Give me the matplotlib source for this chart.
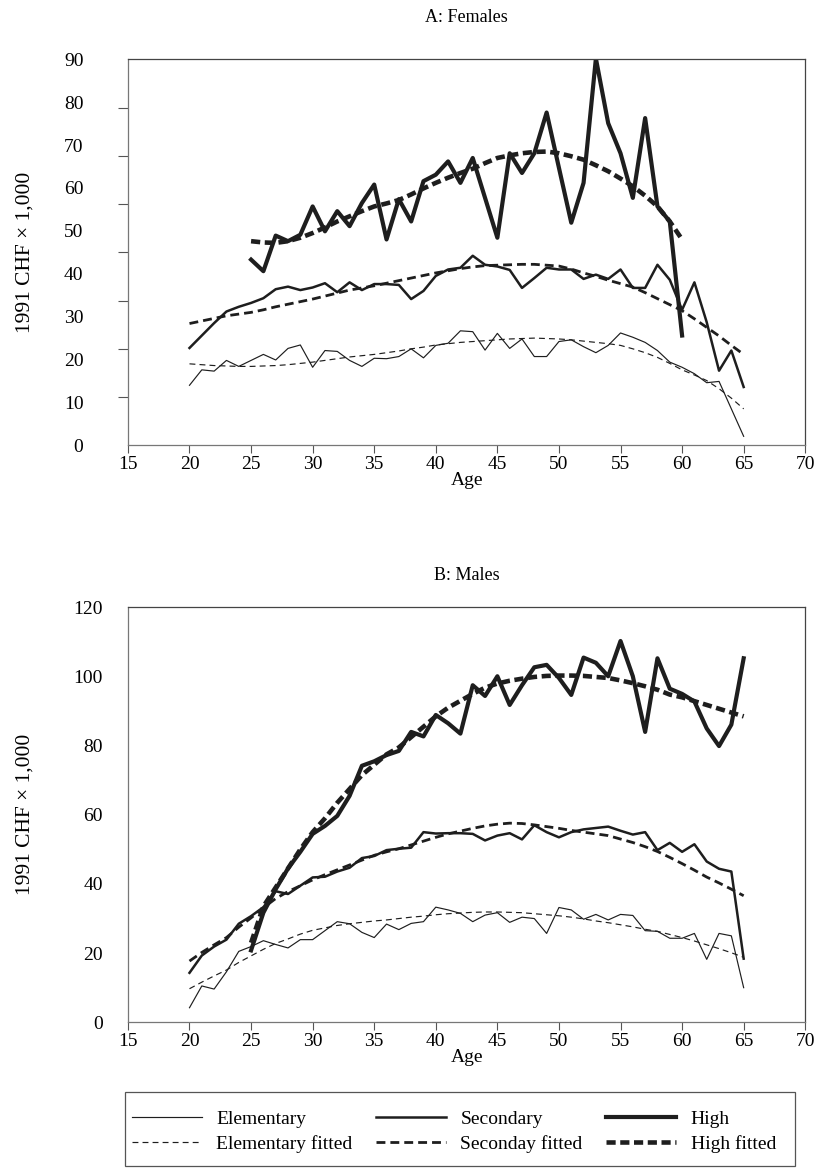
import matplotlib
matplotlib.use('Agg')
import matplotlib.pyplot as plt
import numpy as np
from matplotlib.patches import Rectangle

plt.rcParams['font.family'] = ['Liberation Serif', 'DejaVu Serif']

# ages
ages_all = list(range(20, 66))
ages_high_f = list(range(25, 61))
ages_high_m = list(range(25, 66))

# ---- A: Females ----
f_elem = [14.0, 17.6, 17.3, 19.8, 18.4, 19.8, 21.2, 19.9, 22.6, 23.4,
          18.2, 22.1, 21.9, 19.8, 18.4, 20.3, 20.2, 20.7, 22.5, 20.4,
          23.3, 23.8, 26.7, 26.5, 22.2, 26.1, 22.6, 24.8, 20.7, 20.7,
          24.2, 24.6, 23.0, 21.6, 23.3, 26.2, 25.2, 24.0, 22.1, 19.4,
          18.2, 16.7, 14.6, 14.9, 8.5, 2.1]
f_elem_fit = [19.0, 18.8, 18.6, 18.5, 18.4, 18.4, 18.5, 18.6, 18.8, 19.1,
              19.4, 19.8, 20.2, 20.6, 20.9, 21.2, 21.6, 22.0, 22.5, 22.9,
              23.4, 23.7, 24.0, 24.2, 24.4, 24.6, 24.8, 24.9, 25.0, 24.9,
              24.8, 24.6, 24.3, 24.0, 23.7, 23.3, 22.5, 21.6, 20.5, 19.1,
              17.6, 16.4, 15.1, 13.2, 11.0, 8.5]
f_sec = [22.7, 25.6, 28.5, 31.2, 32.3, 33.2, 34.3, 36.4, 37.0, 36.2,
         36.8, 37.8, 35.7, 38.0, 36.2, 37.6, 37.6, 37.4, 34.1, 36.0,
         39.5, 41.0, 41.4, 44.2, 42.1, 41.7, 40.9, 36.7, 39.0, 41.4,
         41.0, 41.0, 38.8, 39.8, 38.8, 41.0, 36.7, 36.7, 42.1, 38.6,
         31.6, 38.0, 28.7, 17.4, 22.1, 13.6]
f_sec_fit = [28.4, 29.0, 29.6, 30.2, 30.6, 31.0, 31.6, 32.3, 32.9, 33.5,
             34.1, 34.8, 35.5, 36.2, 36.7, 37.2, 37.8, 38.4, 39.0, 39.6,
             40.2, 40.7, 41.2, 41.6, 41.9, 42.0, 42.1, 42.2, 42.2, 42.0,
             41.8, 41.1, 40.2, 39.4, 38.5, 37.7, 36.9, 35.6, 34.2, 32.8,
             31.4, 29.5, 27.5, 25.5, 23.3, 21.2]
f_high = [43.3, 40.6, 48.9, 47.6, 49.1, 55.7, 49.9, 54.6, 51.1, 56.5,
          60.8, 48.0, 57.4, 52.2, 61.6, 63.1, 66.2, 61.2, 67.0, 57.7,
          48.4, 68.1, 63.5, 68.1, 77.6, 64.7, 51.9, 61.2, 90.2, 75.1,
          68.1, 57.7, 76.3, 55.7, 52.2, 25.6]
f_high_fit = [47.6, 47.3, 47.2, 47.6, 48.4, 49.5, 50.8, 52.2, 53.4, 54.6,
              55.7, 56.4, 57.2, 58.5, 59.9, 61.2, 62.4, 63.5, 64.5, 65.8,
              67.0, 67.6, 68.1, 68.4, 68.5, 68.1, 67.4, 66.6, 65.3, 63.9,
              62.2, 60.4, 58.2, 55.7, 52.2, 48.0]

# ---- B: Males ----
m_elem = [4.2, 10.5, 9.6, 14.6, 20.5, 21.9, 23.6, 22.5, 21.5, 23.9,
          23.9, 26.5, 29.1, 28.5, 26.0, 24.5, 28.4, 26.8, 28.6, 29.1,
          33.3, 32.5, 31.5, 29.1, 31.0, 31.7, 28.9, 30.4, 30.0, 25.7,
          33.2, 32.5, 29.8, 31.2, 29.6, 31.2, 30.9, 26.5, 26.3, 24.3,
          24.3, 25.7, 18.2, 25.7, 25.0, 10.0]
m_elem_fit = [9.7, 11.6, 13.4, 15.1, 17.3, 19.2, 21.1, 22.8, 24.1, 25.5,
              26.6, 27.3, 28.0, 28.5, 28.9, 29.3, 29.6, 30.0, 30.4, 30.7,
              31.1, 31.4, 31.6, 31.8, 31.9, 31.9, 31.8, 31.7, 31.4, 31.1,
              30.8, 30.4, 29.9, 29.3, 28.8, 28.2, 27.6, 26.9, 26.3, 25.4,
              24.5, 23.5, 22.4, 21.3, 20.1, 18.8]
m_sec = [14.3, 19.3, 21.9, 23.9, 28.5, 30.7, 33.3, 37.9, 37.1, 39.5,
         41.9, 42.1, 43.6, 44.7, 47.5, 48.1, 49.8, 50.2, 50.5, 55.0,
         54.6, 54.7, 54.7, 54.5, 52.6, 54.0, 54.7, 52.9, 57.0, 55.0,
         53.5, 55.0, 55.8, 56.2, 56.6, 55.4, 54.3, 55.0, 49.8, 51.9,
         49.3, 51.5, 46.5, 44.4, 43.6, 18.4]
m_sec_fit = [17.7, 20.2, 22.4, 24.5, 27.5, 30.2, 33.1, 35.8, 37.8, 39.5,
             41.2, 42.7, 44.1, 45.5, 46.9, 48.3, 49.3, 50.2, 51.3, 52.4,
             53.5, 54.5, 55.3, 56.1, 56.8, 57.3, 57.6, 57.5, 57.1, 56.6,
             56.1, 55.5, 55.0, 54.5, 54.0, 53.0, 52.0, 50.8, 49.4, 47.7,
             45.9, 44.0, 42.0, 40.3, 38.5, 36.6]
m_high = [20.8, 31.7, 38.5, 44.5, 49.3, 54.5, 56.8, 59.7, 65.5, 74.2,
          75.5, 77.3, 78.5, 84.0, 82.7, 88.9, 86.5, 83.5, 97.5, 94.4,
          100.1, 91.8, 97.5, 102.7, 103.4, 99.6, 94.7, 105.5, 104.0, 100.1,
          110.3, 100.1, 84.0, 105.3, 96.5, 95.0, 92.8, 85.0, 79.9, 86.1,
          105.3]
m_high_fit = [23.0, 33.5, 39.0, 44.5, 50.0, 55.0, 59.0, 63.5, 67.5, 71.5,
              74.5, 77.5, 79.5, 82.5, 85.5, 88.5, 91.0, 93.0, 95.0, 96.8,
              98.0, 98.8, 99.4, 99.9, 100.2, 100.3, 100.3, 100.2, 99.9, 99.6,
              98.9, 98.1, 97.2, 96.2, 94.8, 94.0, 92.9, 91.8, 90.7, 89.6,
              88.5]

x_ticks = list(range(15, 71, 5))
ink = '#1e1e1e'

styles = {
    'elem': dict(color=ink, lw=0.85),
    'elem_fit': dict(color=ink, lw=0.85, ls=(0, (5, 3.5))),
    'sec': dict(color=ink, lw=1.8),
    'sec_fit': dict(color=ink, lw=2.0, ls=(0, (3.2, 1.8))),
    'high': dict(color=ink, lw=3.0),
    'high_fit': dict(color=ink, lw=3.3, ls=(0, (2.0, 1.0))),
}


def draw_panel(ax, title, series, ymax, ystep, n_marks, tpad):
    for key, xs, ys, lab in series:
        ax.plot(xs, ys, label=lab, **styles[key])
    ax.set_xlim(15, 70)
    ax.set_ylim(0, ymax)
    ax.set_xticks(x_ticks)
    # labels on the major ticks, the tick marks themselves drawn as minor ticks
    ax.set_yticks(np.arange(0, ymax + 1, ystep))
    ax.set_yticks(np.linspace(0, ymax, n_marks), minor=True)
    ax.tick_params(labelsize=14, width=0.8, color='#555555', direction='out')
    ax.tick_params(axis='x', length=6, pad=2)
    ax.tick_params(axis='y', which='major', length=0, pad=18 if ymax > 100 else 32)
    ax.tick_params(axis='y', which='minor', length=7, width=0.8, color='#555555')
    for s in ax.spines.values():
        s.set_linewidth(0.9)
        s.set_color('#444444')
    ax.spines['left'].set_color('#777777')
    ax.spines['bottom'].set_color('#777777')
    ax.set_xlabel('Age', fontsize=14, labelpad=-1)
    ax.set_ylabel('1991 CHF \u00d7 1,000', fontsize=15.5)
    ax.yaxis.set_label_coords(-0.138, 0.5)
    ax.set_title(title, fontsize=13, pad=tpad)


fig = plt.figure(figsize=(8.2, 11.75), dpi=100)
ax1 = fig.add_axes([0.156, 0.621, 0.826, 0.3285])
ax2 = fig.add_axes([0.156, 0.130, 0.826, 0.353])

draw_panel(ax1, 'A: Females', [
    ('elem', ages_all, f_elem, 'Elementary'),
    ('elem_fit', ages_all, f_elem_fit, 'Elementary fitted'),
    ('sec', ages_all, f_sec, 'Secondary'),
    ('sec_fit', ages_all, f_sec_fit, 'Seconday fitted'),
    ('high', ages_high_f, f_high, 'High'),
    ('high_fit', ages_high_f, f_high_fit, 'High fitted'),
], 90, 10, 9, 27)

draw_panel(ax2, 'B: Males', [
    ('elem', ages_all, m_elem, 'Elementary'),
    ('elem_fit', ages_all, m_elem_fit, 'Elementary fitted'),
    ('sec', ages_all, m_sec, 'Secondary'),
    ('sec_fit', ages_all, m_sec_fit, 'Seconday fitted'),
    ('high', ages_high_m, m_high, 'High'),
    ('high_fit', ages_high_m, m_high_fit, 'High fitted'),
], 120, 20, 7, 20)

# legend box
fig.add_artist(Rectangle((0.152, 0.008), 0.818, 0.063, transform=fig.transFigure,
                         fill=False, edgecolor='#555555', lw=0.9))
handles, labels = ax1.get_legend_handles_labels()
fig.legend(handles, labels, ncol=3, loc='upper left', bbox_to_anchor=(0.151, 0.062),
           frameon=False, fontsize=14, handlelength=3.6, handletextpad=0.75,
           columnspacing=1.2, labelspacing=0.39, borderaxespad=0.0, borderpad=0.4)

fig.savefig('out.png', dpi=100)
